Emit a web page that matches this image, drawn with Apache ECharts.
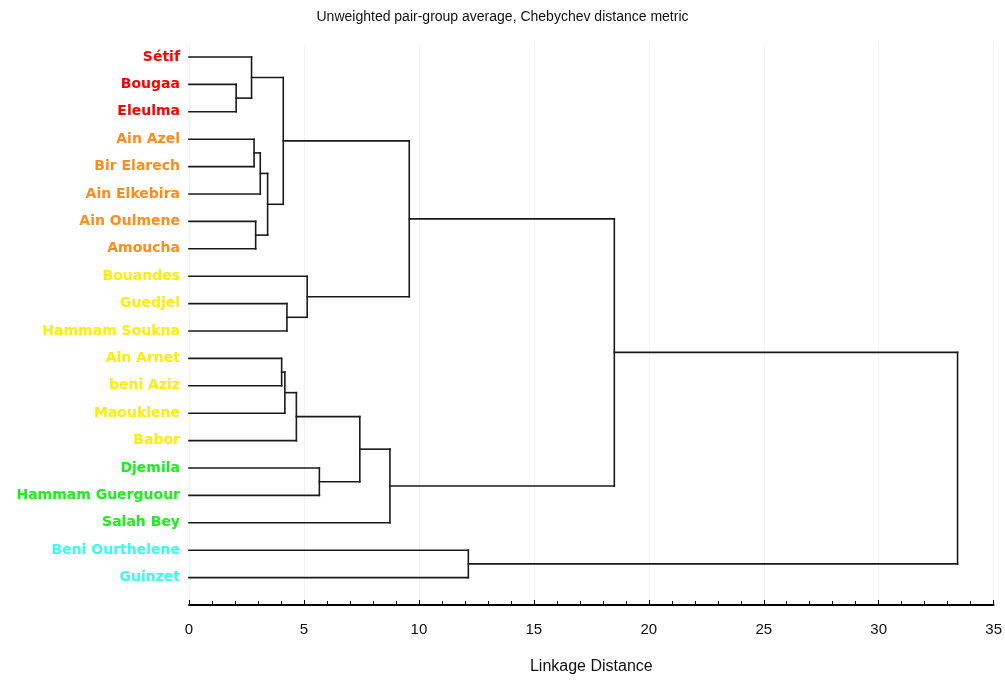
<!DOCTYPE html>
<html>
<head>
<meta charset="utf-8">
<script src="https://cdn.jsdelivr.net/npm/echarts@6/dist/echarts.min.js"></script>
<style>
  html, body { margin: 0; padding: 0; background: #fff; }
  #chart { width: 1005px; height: 681px; }
</style>
</head>
<body>
<div id="chart"></div>
<script>
// leaves, top to bottom
const leaves = ['Sétif', 'Bougaa', 'Eleulma', 'Ain Azel', 'Bir Elarech', 'Ain Elkebira',
  'Ain Oulmene', 'Amoucha', 'Bouandes', 'Guedjel', 'Hammam Soukna', 'Ain Arnet',
  'beni Aziz', 'Maouklene', 'Babor', 'Djemila', 'Hammam Guerguour', 'Salah Bey',
  'Beni Ourthelene', 'Guinzet'];
const leafGroup = [0, 0, 0, 1, 1, 1, 1, 1, 2, 2, 2, 2, 2, 2, 2, 3, 3, 3, 4, 4];
const groupColors = ['#ff0000', '#ff8c1a', '#ffee00', '#19f019', '#33ffee'];

// merges: [left, right, distance]; 'Lk' = leaf k, 'Ck' = result of merge k
const merges = [
  ['L1', 'L2', 2.05],    // C0
  ['L0', 'C0', 2.72],    // C1
  ['L3', 'L4', 2.83],    // C2
  ['C2', 'L5', 3.1],     // C3
  ['L6', 'L7', 2.9],     // C4
  ['C3', 'C4', 3.42],    // C5
  ['C1', 'C5', 4.1],     // C6
  ['L9', 'L10', 4.26],   // C7
  ['L8', 'C7', 5.14],    // C8
  ['C6', 'C8', 9.58],    // C9
  ['L11', 'L12', 4.03],  // C10
  ['C10', 'L13', 4.17],  // C11
  ['C11', 'L14', 4.67],  // C12
  ['L15', 'L16', 5.67],  // C13
  ['C12', 'C13', 7.43],  // C14
  ['C14', 'L17', 8.74],  // C15
  ['C9', 'C15', 18.5],   // C16
  ['L18', 'L19', 12.15], // C17
  ['C16', 'C17', 33.43]  // C18
];

const xTicks = [0, 5, 10, 15, 20, 25, 30, 35];

// build the elbow segments: each merge gives [x1, y1, x2, y2] in data units
const nodes = [];
const segments = [];
const nodeOf = id => id[0] === 'L' ? { x: 0, y: +id.slice(1) } : nodes[+id.slice(1)];
merges.forEach(([a, b, d]) => {
  const na = nodeOf(a), nb = nodeOf(b);
  segments.push([na.x, na.y, d, na.y]);
  segments.push([nb.x, nb.y, d, nb.y]);
  segments.push([d, na.y, d, nb.y]);
  nodes.push({ x: d, y: (na.y + nb.y) / 2 });
});

const chart = echarts.init(document.getElementById('chart'));
chart.setOption({
  animation: false,
  title: {
    text: 'Unweighted pair-group average, Chebychev distance metric',
    left: 'center',
    top: 5,
    textStyle: { fontFamily: 'Liberation Sans', fontSize: 14, fontWeight: 'normal', color: '#111' }
  },
  grid: { left: 189, right: 11, top: 43.3, bottom: 76, containLabel: false },
  xAxis: {
    type: 'value',
    min: xTicks[0],
    max: xTicks[xTicks.length - 1],
    interval: 5,
    name: 'Linkage Distance',
    nameLocation: 'middle',
    nameGap: 54,
    nameTextStyle: { fontFamily: 'Liberation Sans', fontSize: 16, color: '#111' },
    axisLine: { onZero: false, lineStyle: { color: '#000', width: 1.8 } },
    axisTick: { inside: true, length: 5, lineStyle: { color: '#000' } },
    minorTick: { show: true, splitNumber: 5, length: 4, lineStyle: { color: '#000' } },
    axisLabel: { margin: 17, fontFamily: 'Liberation Sans', fontSize: 15, color: '#111' },
    splitLine: { show: true, lineStyle: { color: '#f3f3f3', width: 1 } }
  },
  yAxis: {
    type: 'value',
    inverse: true,
    min: -0.5,
    max: leaves.length,
    show: false
  },
  series: [
    {
      type: 'custom',
      data: segments,
      encode: { x: [0, 2], y: [1, 3] },
      renderItem: (params, api) => {
        const p1 = api.coord([api.value(0), api.value(1)]);
        const p2 = api.coord([api.value(2), api.value(3)]);
        return {
          type: 'line',
          shape: { x1: p1[0], y1: p1[1], x2: p2[0], y2: p2[1] },
          style: { stroke: '#1a1a1a', lineWidth: 1.6, lineCap: 'square' }
        };
      },
      z: 3
    },
    {
      type: 'scatter',
      symbolSize: 0,
      silent: true,
      itemStyle: { opacity: 1 },
      data: leaves.map((name, i) => ({
        value: [0, i],
        label: {
          show: true,
          position: 'left',
          distance: 9,
          formatter: name,
          color: groupColors[leafGroup[i]],
          opacity: 1,
          fontFamily: 'DejaVu Sans',
          fontWeight: 'bold',
          fontSize: 14
        }
      }))
    }
  ]
});
</script>
</body>
</html>
